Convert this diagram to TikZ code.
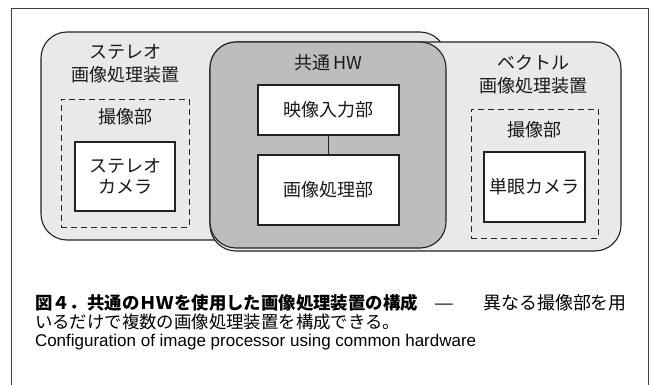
\documentclass[tikz,border=0pt]{standalone}
\usepackage{fontspec}
\usepackage{graphicx}
\newfontfamily\jp{Noto Sans CJK JP}
\newfontfamily\en{Liberation Sans}
\definecolor{lightfill}{HTML}{E9E9E9}
\definecolor{darkfill}{HTML}{BDBDBD}
\definecolor{edge}{HTML}{222222}
\begin{document}
\begin{tikzpicture}[x=1pt,y=-1pt,
  every node/.style={inner sep=0pt,outer sep=0pt},
  bigbox/.style={draw=edge,line width=1.1pt,rounded corners=26pt,anchor=north west},
  dashbox/.style={draw=edge,line width=0.9pt,dash pattern=on 6pt off 4pt,anchor=north west},
  whitebox/.style={draw=edge,line width=1.1pt,fill=white,anchor=north west},
  lbl/.style={font=\jp\fontsize{18}{23}\selectfont,align=center,text=black!90},
  captext/.style={anchor=west,text=black}]
\useasboundingbox (0,0) rectangle (653,385);
\draw[black!75,line width=0.9pt] (11,385) -- (11,8) -- (648,8) -- (648,385);
% containers
\node[bigbox,fill=lightfill,minimum width=405pt,minimum height=208pt] (stereo) at (41,32) {};
\node[bigbox,fill=lightfill,minimum width=411pt,minimum height=209pt] (vector) at (210,42) {};
\node[bigbox,fill=darkfill,minimum width=236pt,minimum height=206pt] (hw) at (210,42) {};
% stereo side
\node[lbl] (stitle) at (125,64) {ステレオ\\画像処理装置};
\node[dashbox,minimum width=128pt,minimum height=128pt] (scap) at (61,99) {};
\node[lbl] (scapt) at (125,117) {撮像部};
\node[whitebox,minimum width=100pt,minimum height=69pt] (scam) at (75,142) {};
\node[lbl,font=\jp\fontsize{18}{21}\selectfont] at (scam.center) {ステレオ\\カメラ};
% common HW
\node[lbl] (hwt) at (328,63) {共通\,HW};
\node[whitebox,minimum width=141pt,minimum height=50pt] (vin) at (258,85) {};
\node[lbl] at (vin.center) {映像入力部};
\node[whitebox,minimum width=141pt,minimum height=70pt] (proc) at (258,155) {};
\node[lbl] at (proc.center) {画像処理部};
\draw[edge,line width=1.1pt] (vin.south) -- (proc.north);
% vector side
\node[lbl] (vtitle) at (533,74.5) {ベクトル\\画像処理装置};
\node[dashbox,minimum width=127pt,minimum height=129pt] (vcap) at (471,109) {};
\node[lbl] (vcapt) at (534.5,130) {撮像部};
\node[whitebox,minimum width=101pt,minimum height=70pt] (vcam) at (484,152) {};
\node[lbl] at (vcam.center) {単眼カメラ};
% caption
\node[captext,font=\jp\fontsize{17.4}{20}\selectfont] (c1) at (35,303)
  {{\bfseries 図４．共通のＨＷを使用した画像処理装置の構成}\hspace{17pt}\scalebox{1.27}[1]{—}\hspace{29pt}{\fontsize{17.9}{20}\selectfont 異なる撮像部を用}};
\node[captext,font=\jp\fontsize{17.4}{20}\selectfont] (c2) at (35,321.5) {いるだけで複数の画像処理装置を構成できる。};
\node[captext,font=\en\fontsize{17}{19}\selectfont] (c3) at (35,342) {Configuration of image processor using common hardware};
\end{tikzpicture}
\end{document}
